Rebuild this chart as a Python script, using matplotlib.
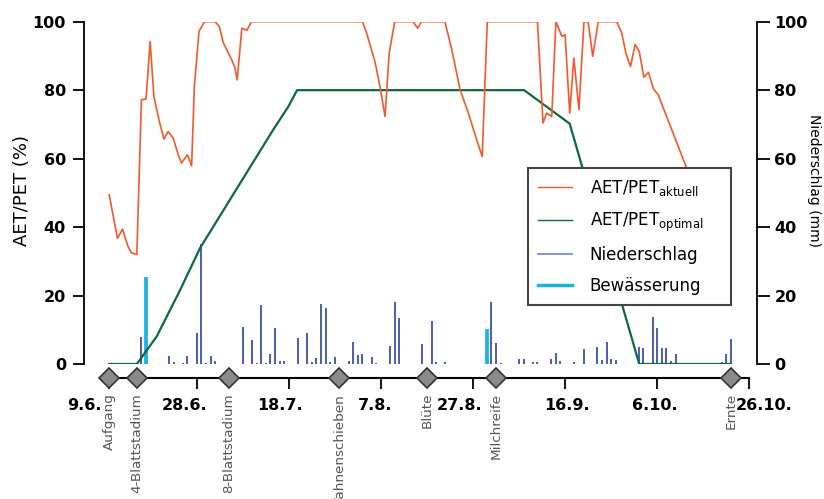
import matplotlib
matplotlib.use('Agg')
import matplotlib.pyplot as plt
from matplotlib.lines import Line2D
from matplotlib.transforms import blended_transform_factory, ScaledTranslation

# ---------------- data (x = days after 9 June) ----------------
aet_day = [0, 1.8, 2.9, 4.1, 4.8, 6, 7, 8, 8.9, 9.7, 10.9, 11.9, 12.8, 13.9, 15, 15.7,
           17, 17.9, 18.5, 19.5, 20.7, 23, 23.9, 24.8, 26.6, 27.3, 27.8, 28.8, 29.9,
           30.9, 55, 55.9, 57.7, 58.8, 59.9, 60.8, 62, 66, 67, 67.8, 72.9, 74.4, 76.2,
           78, 79.8, 81, 82.1, 93, 94.2, 95, 96.1, 97, 98.3, 99, 100, 100.9, 102,
           103.1, 104, 105, 106.2, 110.2, 111.3, 112.2, 113.2, 114.2, 115.1, 116.1,
           117.1, 118.2, 119.2, 125.4, 130, 133]
aet_val = [49.4, 36.7, 39.4, 34.3, 32.5, 32, 77.2, 77.4, 94.2, 78.2, 70.8, 65.7, 67.9,
           66, 61.1, 58.7, 61.1, 57.9, 81.1, 97.2, 100, 100, 98.6, 93.8, 88.9, 86.5,
           83, 98.1, 97.5, 100, 100, 96.7, 88.4, 81.1, 72.3, 90.8, 100, 100, 98.1, 100,
           100, 91.8, 80.1, 73.3, 65.5, 60.6, 100, 100, 70.4, 73.3, 72.3, 100, 95.7,
           96.2, 73.3, 89.4, 74.3, 100, 100, 89.9, 100, 100, 96.7, 90.8, 86.9, 93.3,
           91.3, 83.8, 85.2, 80.3, 78.7, 57.2, 40, 30]

opt_day = [0, 6, 10.3, 15.4, 19.7, 35.6, 38.9, 40.8, 90.1, 100, 115.1, 135]
opt_val = [0, 0, 8, 21.6, 33.8, 68.4, 75.2, 80, 80, 70.2, 0, 0]

rain_day = [7, 13, 14, 16, 17, 19, 20, 21, 22, 23, 29, 31, 32, 33, 34, 35, 36, 37, 38,
            41, 43, 44, 45, 46, 47, 48, 49, 52, 53, 54, 55, 57, 58, 61, 62, 63, 68, 70,
            71, 73, 83, 84, 85, 89, 90, 92, 93, 96, 97, 98, 101, 103, 106, 107, 108,
            109, 110, 115, 116, 118, 119, 120, 121, 122, 123, 133, 134, 135]
rain_mm = [7.8, 2.4, 0.7, 0.4, 2.4, 9, 35.1, 0.4, 2.4, 0.8, 10.9, 7, 0.4, 17.3, 0.4, 3,
           10.4, 0.8, 0.8, 7.5, 9.2, 0.7, 1.8, 17.4, 16.3, 0.7, 2, 0.9, 6.3, 2.5, 2.8, 2,
           0.4, 5.2, 18.2, 13.4, 5.7, 12.6, 0.5, 0.5, 18.2, 6.2, 0.4, 1.5, 1.5, 0.5, 0.5,
           1.5, 3.2, 0.8, 0.5, 4.5, 5, 1.2, 6.3, 1.6, 1.3, 4.9, 4.8, 13.7, 10.5, 4.7,
           4.6, 0.9, 3, 0.5, 2.9, 7.3]

irr_day = [8, 82]
irr_mm = [25.3, 10.3]

date_ticks = [0, 19, 39, 59, 79, 99, 119, 139]
date_labels = ['9.6.', '28.6.', '18.7.', '7.8.', '27.8.', '16.9.', '6.10.', '26.10.']

stage_day = [0, 6, 26, 50, 69, 84, 135]
stage_names = ['Aufgang', '4-Blattstadium', '8-Blattstadium', 'Fahnenschieben',
               'Blüte', 'Milchreife', 'Ernte']

# ---------------- styles ----------------
C_AET = '#f4582b'
C_OPT = '#0d6b3a'
C_RAIN = '#3a52ad'
C_IRR = '#1ab4de'

plt.rcParams['font.family'] = ['DejaVu Sans']

fig = plt.figure(figsize=(8.24, 4.99), dpi=100)
ax = fig.add_axes([84 / 824, 1 - 364 / 499, 673 / 824, 342.3 / 499])

ax.vlines(rain_day, 0, rain_mm, colors=C_RAIN, lw=1.3, zorder=2)
ax.vlines(irr_day, 0, irr_mm, colors=C_IRR, lw=2.7, zorder=2)
ax.plot(opt_day, opt_val, color=C_OPT, lw=1.6, zorder=3)
ax.plot(aet_day, aet_val, color=C_AET, lw=1.2, zorder=4)

ax.set_xlim(-5.47, 140.67)
ax.set_ylim(0, 100)

for s in ['top', 'right']:
    ax.spines[s].set_visible(False)
ax.spines['left'].set_bounds(0, 100)
ax.spines['left'].set_linewidth(1.3)
ax.spines['bottom'].set_position(('outward', 10))
ax.spines['bottom'].set_bounds(0, 139)
ax.spines['bottom'].set_linewidth(1.5)

ax.set_yticks([0, 20, 40, 60, 80, 100])
ax.tick_params(axis='y', direction='out', length=8, width=1.3, pad=5, labelsize=11.5)
for t in ax.get_yticklabels():
    t.set_fontweight('bold')
ax.set_xticks(date_ticks)
ax.set_xticklabels([])
ax.tick_params(axis='x', direction='out', length=8, width=1.3)

ax2 = ax.twinx()
ax2.set_ylim(0, 100)
for s in ['top', 'left', 'bottom']:
    ax2.spines[s].set_visible(False)
ax2.spines['right'].set_bounds(0, 100)
ax2.spines['right'].set_linewidth(1.3)
ax2.set_yticks([0, 20, 40, 60, 80, 100])
ax2.tick_params(axis='y', direction='out', length=9, width=1.3, pad=3.5, labelsize=11.5)
for t in ax2.get_yticklabels():
    t.set_fontweight('bold')

base = blended_transform_factory(ax.transData, ax.transAxes)

# date tick labels (manual, slightly offset as in reference)
lab_dx = [-25, -12, -8.5, -6, -13, 2, -2.7, 15]
for d, lab, dx in zip(date_ticks, date_labels, lab_dx):
    tr = base + ScaledTranslation(dx / 100, -0.34, fig.dpi_scale_trans)
    ax.text(d, 0, lab, transform=tr, ha='center', va='top', fontsize=11.5,
            fontweight='bold', clip_on=False)

# stage diamonds and labels
trd = base + ScaledTranslation(0, -10 / 72, fig.dpi_scale_trans)
ax.plot(stage_day, [0] * len(stage_day), 'D', ms=10.5, mfc='#8a8a8a', mec='#333333',
        mew=1.2, transform=trd, clip_on=False, zorder=10)
trs = base + ScaledTranslation(0, -0.29, fig.dpi_scale_trans)
for d, name in zip(stage_day, stage_names):
    ax.text(d, 0, name, transform=trs, rotation=90, ha='center', va='top',
            fontsize=9.7, color='#555555', clip_on=False)

fig.text(22 / 824, 1 - 191 / 499, 'AET/PET (%)', rotation=90, ha='center', va='center',
         fontsize=13)
fig.text(814 / 824, 1 - 180 / 499, 'Niederschlag (mm)', rotation=270, ha='center',
         va='center', fontsize=10)

handles = [Line2D([], [], color=C_AET, lw=1.0),
           Line2D([], [], color=C_OPT, lw=1.0),
           Line2D([], [], color='#6f83cc', lw=1.2),
           Line2D([], [], color=C_IRR, lw=2.5)]
labels = [r'AET/PET$_\mathregular{aktuell}$', r'AET/PET$_\mathregular{optimal}$',
          'Niederschlag', 'Bewässerung']
leg = ax.legend(handles, labels, loc='upper left',
                bbox_to_anchor=(0.66, 0.172, 0.301, 0.4006), mode='expand',
                fontsize=12, frameon=True, fancybox=False, framealpha=1,
                edgecolor='#444444', handlelength=2.0, handletextpad=1.1,
                labelspacing=0.75, borderpad=0.6, borderaxespad=0)
leg.get_frame().set_linewidth(1.5)
leg.set_zorder(20)

fig.savefig('out.png', dpi=100)
